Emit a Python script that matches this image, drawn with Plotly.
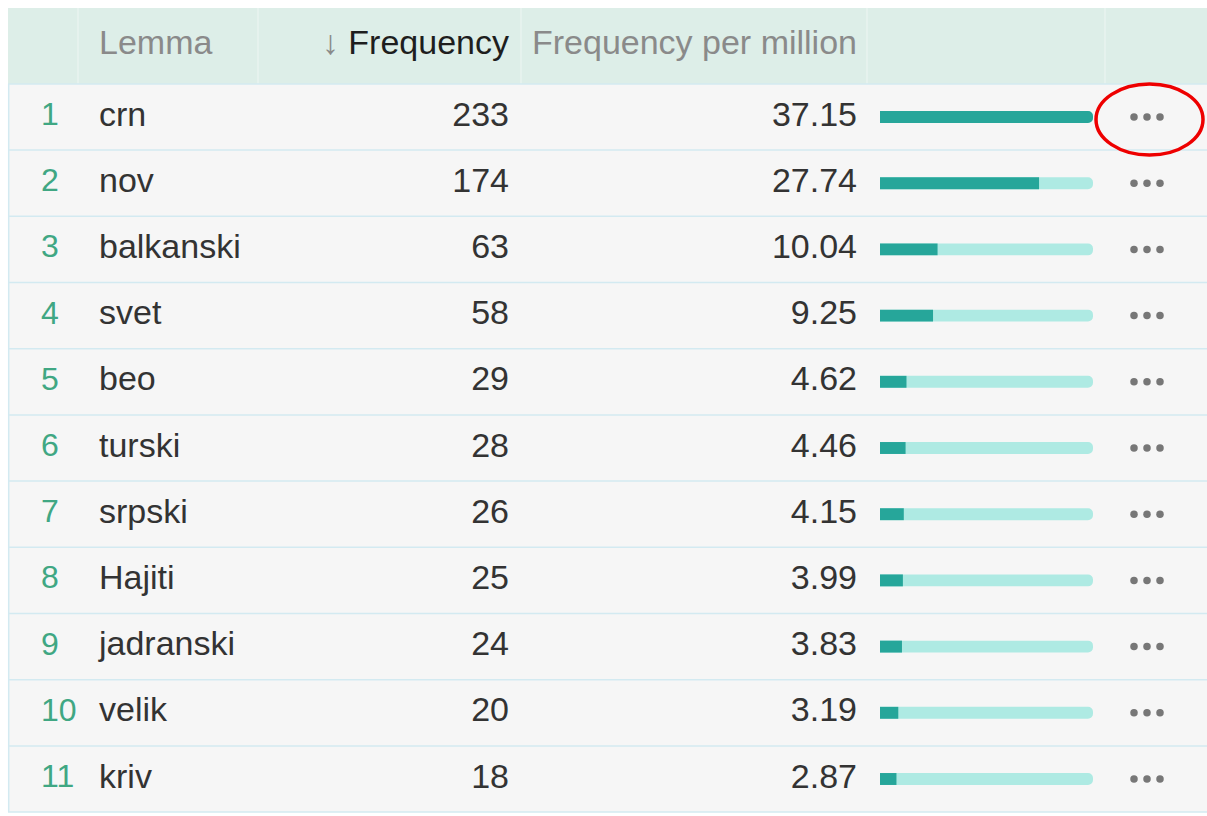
import plotly.graph_objects as go

# ---- data ----
ranks = [1, 2, 3, 4, 5, 6, 7, 8, 9, 10, 11]
lemmas = ["crn", "nov", "balkanski", "svet", "beo", "turski", "srpski",
          "Hajiti", "jadranski", "velik", "kriv"]
frequency = [233, 174, 63, 58, 29, 28, 26, 25, 24, 20, 18]
fpm = [37.15, 27.74, 10.04, 9.25, 4.62, 4.46, 4.15, 3.99, 3.83, 3.19, 2.87]
headers = ["Lemma", "↓ Frequency", "Frequency per million"]

W, H = 1207, 816
ROW_H = 66.2          # pixels per row
ROW1_C = 117          # pixel centre of first row
def px2row(p):
    return (p - ROW1_C) / ROW_H + 1

FONT = "Liberation Sans, Arial, sans-serif"
FS = 34
DARK = "#26a69a"
LIGHT = "#aeeae3"
SEP = "#d3eaf1"

maxv = max(fpm)
fig = go.Figure()

# track bars (full) and value bars on a secondary x axis over the bar column
fig.add_trace(go.Bar(y=ranks, x=[maxv] * len(ranks), orientation="h",
                     xaxis="x2", yaxis="y", marker=dict(color=LIGHT, line_width=0),
                     width=0.18, hoverinfo="skip", showlegend=False))
fig.add_trace(go.Bar(y=ranks, x=fpm, orientation="h",
                     xaxis="x2", yaxis="y", marker=dict(color=DARK, line_width=0),
                     width=0.18, hoverinfo="skip", showlegend=False))

# rank numbers
fig.add_trace(go.Scatter(x=[41] * len(ranks), y=ranks, mode="text",
                         text=[str(r) for r in ranks], textposition="middle right",
                         textfont=dict(family=FONT, size=FS - 2, color="#40a783"),
                         hoverinfo="skip", showlegend=False, cliponaxis=False))
# lemma
fig.add_trace(go.Scatter(x=[99] * len(ranks), y=ranks, mode="text",
                         text=lemmas, textposition="middle right",
                         textfont=dict(family=FONT, size=FS, color="#333333"),
                         hoverinfo="skip", showlegend=False, cliponaxis=False))
# frequency
fig.add_trace(go.Scatter(x=[509] * len(ranks), y=ranks, mode="text",
                         text=[str(f) for f in frequency], textposition="middle left",
                         textfont=dict(family=FONT, size=FS, color="#333333"),
                         hoverinfo="skip", showlegend=False, cliponaxis=False))
# frequency per million
fig.add_trace(go.Scatter(x=[857] * len(ranks), y=ranks, mode="text",
                         text=[f"{v:.2f}" for v in fpm], textposition="middle left",
                         textfont=dict(family=FONT, size=FS, color="#333333"),
                         hoverinfo="skip", showlegend=False, cliponaxis=False))
# "..." menu dots
for dx in (1134, 1147, 1160):
    fig.add_trace(go.Scatter(x=[dx] * len(ranks), y=ranks, mode="markers",
                             marker=dict(size=7.5, color="#777777", line_width=0),
                             hoverinfo="skip", showlegend=False, cliponaxis=False))

# header labels
hy = px2row(45)
fig.add_trace(go.Scatter(x=[99], y=[hy], mode="text", text=[headers[0]],
                         textposition="middle right",
                         textfont=dict(family=FONT, size=FS, color="#8a8a8a"),
                         hoverinfo="skip", showlegend=False, cliponaxis=False))
fig.add_trace(go.Scatter(x=[509], y=[hy], mode="text",
                         text=["<span style='color:#8a8a8a'>" + headers[1][0] + "</span>"
                               + headers[1][1:]],
                         textposition="middle left",
                         textfont=dict(family=FONT, size=FS, color="#1e1e1e"),
                         hoverinfo="skip", showlegend=False, cliponaxis=False))
fig.add_trace(go.Scatter(x=[857], y=[hy], mode="text", text=[headers[2]],
                         textposition="middle left",
                         textfont=dict(family=FONT, size=FS, color="#8a8a8a"),
                         hoverinfo="skip", showlegend=False, cliponaxis=False))

shapes = []
# header background
shapes.append(dict(type="rect", xref="x", yref="y", x0=8, x1=W,
                   y0=px2row(8), y1=0.5, fillcolor="#ddeee8", line_width=0, layer="below"))
# body background
shapes.append(dict(type="rect", xref="x", yref="y", x0=8, x1=W,
                   y0=0.5, y1=len(ranks) + 0.5, fillcolor="#f6f6f6", line_width=0, layer="below"))
# faint column separators in header
for cx in (78, 258, 521, 867, 1105):
    shapes.append(dict(type="line", xref="x", yref="y", x0=cx, x1=cx,
                       y0=px2row(8), y1=0.5, line=dict(color="#eef6f3", width=1), layer="below"))
# row separators
for i in range(len(ranks) + 1):
    shapes.append(dict(type="line", xref="x", yref="y", x0=8, x1=W,
                       y0=i + 0.5, y1=i + 0.5, line=dict(color=SEP, width=1.5), layer="below"))
# left border
shapes.append(dict(type="line", xref="x", yref="y", x0=8.7, x1=8.7,
                   y0=0.5, y1=len(ranks) + 0.5, line=dict(color=SEP, width=1.5), layer="below"))
# red highlight ellipse around first row menu
shapes.append(dict(type="circle", xref="x", yref="y", x0=1096, x1=1203,
                   y0=px2row(84), y1=px2row(155), line=dict(color="#ee0000", width=3.5),
                   layer="above"))

fig.update_layout(
    width=W, height=H, margin=dict(l=0, r=0, t=0, b=0),
    paper_bgcolor="white", plot_bgcolor="rgba(0,0,0,0)",
    barmode="overlay", barcornerradius=6,
    shapes=shapes,
    xaxis=dict(range=[0, W], visible=False, fixedrange=True, domain=[0, 1]),
    xaxis2=dict(range=[0, maxv], visible=False, fixedrange=True,
                domain=[880 / W, 1093 / W], anchor="y"),
    yaxis=dict(range=[px2row(H), px2row(0)], visible=False, fixedrange=True),
)

fig.write_html("out.html", config={"displayModeBar": False},
               post_script="document.body.style.margin='0';document.body.style.overflow='hidden';")
